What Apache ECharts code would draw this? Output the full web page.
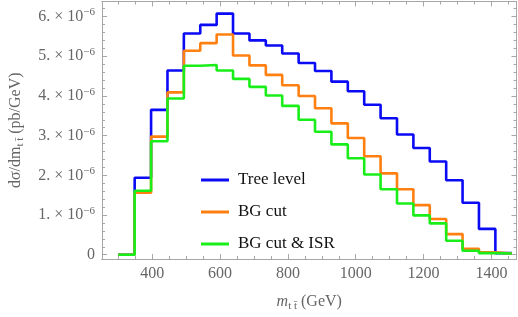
<!DOCTYPE html>
<html>
<head>
<meta charset="utf-8">
<script src="https://cdn.jsdelivr.net/npm/echarts@6/dist/echarts.min.js"></script>
<style>html,body{margin:0;padding:0;background:#fff}#c{width:518px;height:317px}</style>
</head>
<body>
<div id="c"></div>
<script>
// bin edges of m_tt (GeV)
const binEdges = [300, 348.3, 396.7, 445, 493.3, 541.7, 590, 638.3, 686.7, 735, 783.3, 831.7, 880, 928.3, 976.7, 1025, 1073.3, 1121.7, 1170, 1218.3, 1266.7, 1315, 1363.3, 1411.7, 1460];
// dσ/dm values in units of 1e-6 pb/GeV, one per bin
const treeLevel = [0, 1.94, 3.65, 4.64, 5.575, 5.79, 6.075, 5.575, 5.40, 5.27, 5.07, 4.83, 4.63, 4.36, 4.12, 3.78, 3.44, 3.03, 2.69, 2.35, 1.875, 1.31, 0.65, 0.04];
const bgCut = [0, 1.56, 2.975, 4.09, 5.14, 5.33, 5.55, 5.02, 4.77, 4.53, 4.27, 4.00, 3.69, 3.31, 2.94, 2.48, 2.05, 1.65, 1.25, 0.90, 0.52, 0.15, 0.06, 0.03];
const bgCutIsr = [0, 1.61, 2.86, 3.935, 4.76, 4.78, 4.64, 4.43, 4.23, 4.01, 3.75, 3.40, 3.10, 2.78, 2.43, 2.02, 1.65, 1.29, 0.99, 0.79, 0.35, 0.10, 0.04, 0.03];
const seriesNames = ['Tree level', 'BG cut', 'BG cut & ISR'];
// ticks
const xMajor = [400, 600, 800, 1000, 1200, 1400];
const xMinor = [300, 350, 450, 500, 550, 650, 700, 750, 850, 900, 950, 1050, 1100, 1150, 1250, 1300, 1350, 1450];
const yMajor = [0, 1, 2, 3, 4, 5, 6];
const yMinor = [0.2, 0.4, 0.6, 0.8, 1.2, 1.4, 1.6, 1.8, 2.2, 2.4, 2.6, 2.8, 3.2, 3.4, 3.6, 3.8, 4.2, 4.4, 4.6, 4.8, 5.2, 5.4, 5.6, 5.8, 6.2];

const X_MIN = 252, X_MAX = 1474, Y_MIN = -0.108, Y_MAX = 6.38;
const FONT = 'Liberation Serif';
const frameColor = '#a6a6a6';
const labelColor = '#666';
const colors = ['#0a0af5', '#ff8010', '#19ee19'];

function stepData(vals) {
  const d = vals.map((v, i) => [binEdges[i], v]);
  d.push([binEdges[binEdges.length - 1], vals[vals.length - 1]]);
  return d;
}

function xAx(pos, ticks, len, withLabels) {
  const a = {
    type: 'value', min: X_MIN, max: X_MAX, position: pos,
    axisLine: { show: true, onZero: false, lineStyle: { color: frameColor, width: 1 } },
    axisTick: { show: true, inside: true, length: len, customValues: ticks, lineStyle: { color: frameColor, width: 1 } },
    axisLabel: { show: false },
    splitLine: { show: false }
  };
  if (withLabels) {
    a.axisLabel = { show: true, customValues: xMajor, margin: 7, color: labelColor, fontFamily: FONT, fontSize: 16, formatter: v => String(v) };
    a.name = '{i|m}{s|t t\u0304}{n| (GeV)}';
    a.nameLocation = 'middle';
    a.nameGap = 33;
    a.nameTextStyle = {
      color: labelColor, fontFamily: FONT, fontSize: 16,
      rich: {
        i: { fontFamily: FONT, fontSize: 16, fontStyle: 'italic', color: labelColor, lineHeight: 20 },
        s: { fontFamily: FONT, fontSize: 11, color: labelColor, lineHeight: 12, verticalAlign: 'bottom' },
        n: { fontFamily: FONT, fontSize: 16, color: labelColor, lineHeight: 20 }
      }
    };
  }
  return a;
}
function yAx(pos, ticks, len, withLabels) {
  const a = {
    type: 'value', min: Y_MIN, max: Y_MAX, position: pos,
    axisLine: { show: true, onZero: false, lineStyle: { color: frameColor, width: 1 } },
    axisTick: { show: true, inside: true, length: len, customValues: ticks, lineStyle: { color: frameColor, width: 1 } },
    axisLabel: { show: false },
    splitLine: { show: false }
  };
  if (withLabels) {
    a.axisLabel = {
      show: true, customValues: yMajor, margin: 7, color: labelColor, fontFamily: FONT, fontSize: 16,
      formatter: v => v === 0 ? '{m|0}' : '{m|' + v + '. \u00d7 10}{s|\u22126}',
      rich: {
        m: { fontFamily: FONT, fontSize: 16, color: labelColor, lineHeight: 19 },
        s: { fontFamily: FONT, fontSize: 11, color: labelColor, lineHeight: 11, verticalAlign: 'top' }
      }
    };
    a.name = '{n|d\u03c3/dm}{s|t t\u0304}{n| (pb/GeV)}';
    a.nameLocation = 'middle';
    a.nameRotate = 90;
    a.nameGap = 76;
    a.nameTextStyle = {
      color: labelColor, fontFamily: FONT, fontSize: 16,
      rich: {
        s: { fontFamily: FONT, fontSize: 11, color: labelColor, lineHeight: 12, verticalAlign: 'bottom' },
        n: { fontFamily: FONT, fontSize: 16, color: labelColor, lineHeight: 20 }
      }
    };
  }
  return a;
}

const chart = echarts.init(document.getElementById('c'), null, { renderer: 'canvas' });
const dataSets = [treeLevel, bgCut, bgCutIsr];
chart.setOption({
  animation: false,
  backgroundColor: '#fff',
  grid: { left: 96, right: 1.5, top: 1.5, bottom: 56, containLabel: false },
  xAxis: [
    xAx('bottom', xMajor, 5, true),
    xAx('bottom', xMinor, 3, false),
    xAx('top', xMajor, 5, false),
    xAx('top', xMinor, 3, false)
  ],
  yAxis: [
    yAx('left', yMajor, 5, true),
    yAx('left', yMinor, 3, false),
    yAx('right', yMajor, 5, false),
    yAx('right', yMinor, 3, false)
  ],
  legend: {
    orient: 'vertical', left: 196, top: 165,
    itemWidth: 28, itemHeight: 3, itemGap: 12, icon: 'rect',
    textStyle: { fontFamily: FONT, fontSize: 17, color: '#111', lineHeight: 20, padding: [0, 0, 0, 4] },
    data: seriesNames
  },
  series: dataSets.map((vals, i) => ({
    name: seriesNames[i], type: 'line', step: 'end',
    xAxisIndex: 0, yAxisIndex: 0,
    showSymbol: false, symbol: 'none',
    data: stepData(vals),
    color: colors[i],
    lineStyle: { width: 2.6, color: colors[i] },
    z: 2 + i
  }))
});
</script>
</body>
</html>
